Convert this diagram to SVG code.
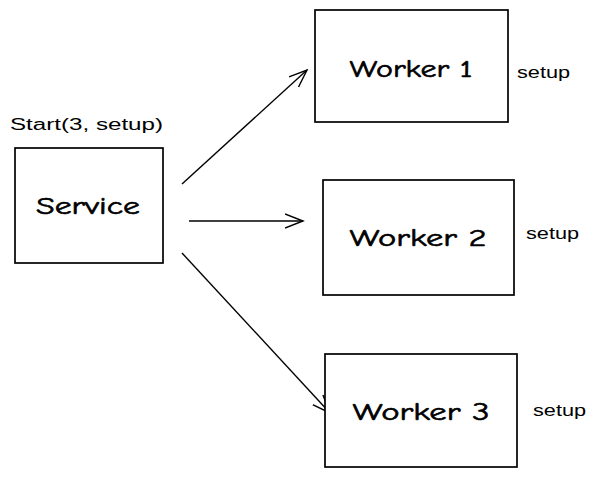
<svg xmlns="http://www.w3.org/2000/svg" width="597" height="477" viewBox="0 0 597 477">
<style>
.box{fill:#fff;stroke:#000;stroke-width:1.7}
.lbl{font-family:"Comic Neue","Liberation Sans",sans-serif;font-size:25px;fill:#000;stroke:#000;stroke-width:0.6;text-anchor:middle}
.sm{font-family:"Liberation Sans",sans-serif;font-size:16px;fill:#000}
.con{stroke:#000;stroke-width:1.4;fill:none}
</style>
<defs>
<marker id="ah" viewBox="0 0 20 20" refX="18" refY="10" markerWidth="20" markerHeight="20" markerUnits="userSpaceOnUse" orient="auto">
<path d="M0,3 L18,10 L0,17" fill="none" stroke="#000" stroke-width="1.4"/>
</marker>
</defs>
<rect width="597" height="477" fill="#fff"/>
<g id="connectors">
<line class="con" x1="182" y1="184" x2="307" y2="70" marker-end="url(#ah)"/>
<line class="con" x1="189" y1="221" x2="303" y2="221" marker-end="url(#ah)"/>
<line class="con" x1="182" y1="253" x2="330" y2="413" marker-end="url(#ah)"/>
</g>
<g id="service">
<rect class="box" x="15" y="148" width="148" height="115"/>
<text class="lbl" x="88" y="214" textLength="104" lengthAdjust="spacingAndGlyphs">Service</text>
<text class="sm" x="10" y="130" textLength="153" lengthAdjust="spacingAndGlyphs">Start(3, setup)</text>
</g>
<g id="worker1">
<rect class="box" x="315" y="10" width="193" height="112"/>
<text class="lbl" x="411" y="77" textLength="123" lengthAdjust="spacingAndGlyphs">Worker 1</text>
<text class="sm" x="517" y="78" textLength="53" lengthAdjust="spacingAndGlyphs">setup</text>
</g>
<g id="worker2">
<rect class="box" x="323" y="180" width="191" height="115"/>
<text class="lbl" x="418" y="246" textLength="137" lengthAdjust="spacingAndGlyphs">Worker 2</text>
<text class="sm" x="526" y="239" textLength="53" lengthAdjust="spacingAndGlyphs">setup</text>
</g>
<g id="worker3">
<rect class="box" x="325" y="354" width="192" height="113"/>
<text class="lbl" x="421" y="420" textLength="137" lengthAdjust="spacingAndGlyphs">Worker 3</text>
<text class="sm" x="533" y="416" textLength="53" lengthAdjust="spacingAndGlyphs">setup</text>
</g>
</svg>
